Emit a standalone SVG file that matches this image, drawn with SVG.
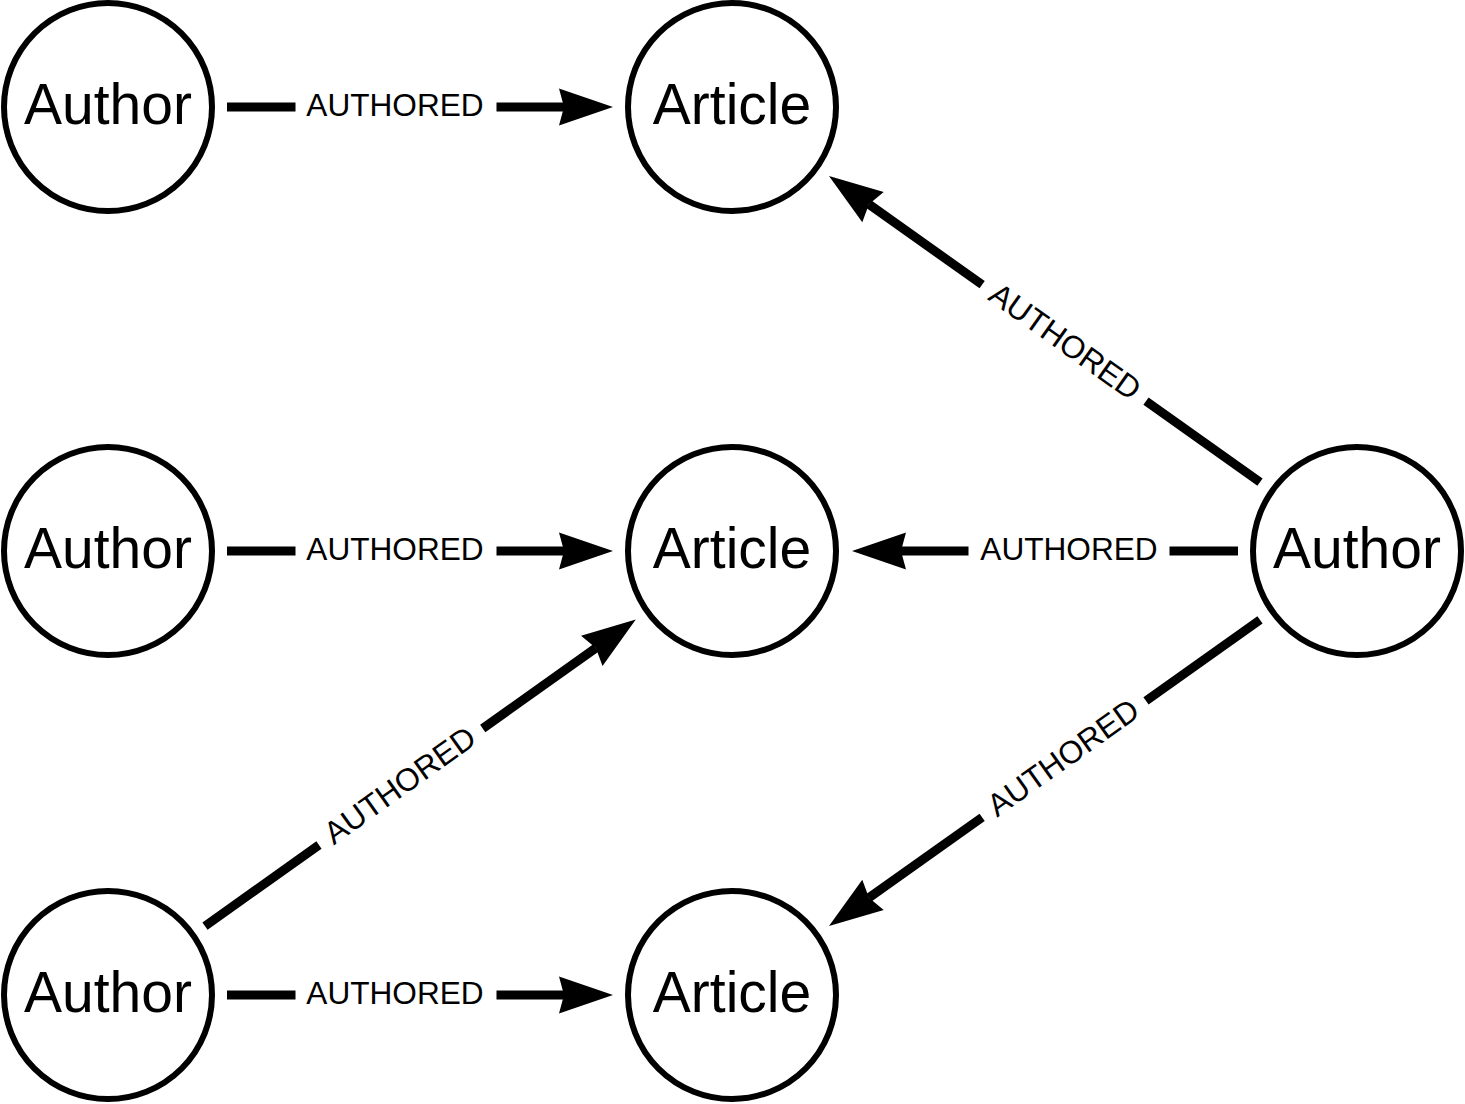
<svg xmlns="http://www.w3.org/2000/svg" width="1465" height="1104" viewBox="0 0 1465 1104">
<style>
.node circle{fill:#fff;stroke:#000;stroke-width:6}
.node text{font-family:"Liberation Sans",Arial,sans-serif;font-size:57px;text-anchor:middle;fill:#000}
.edge line{stroke:#000;stroke-width:9}
.lbl{font-family:"Liberation Sans",Arial,sans-serif;font-size:31.6px;text-anchor:middle;fill:#000}
</style>
<defs>
<path id="ah" d="M0,0 L-54,-18.5 L-49,0 L-54,18.5 Z" fill="#000"/>
</defs>
<rect width="1465" height="1104" fill="#fff"/>
<g id="connectors">
<g class="edge" id="e1" transform="translate(227,107)">
<line x1="0" y1="0" x2="68.5" y2="0"/><line x1="269.5" y1="0" x2="337" y2="0"/><use href="#ah" x="386" y="0"/>
</g>
<g class="edge" id="e2" transform="translate(227,551)">
<line x1="0" y1="0" x2="68.5" y2="0"/><line x1="269.5" y1="0" x2="337" y2="0"/><use href="#ah" x="386" y="0"/>
</g>
<g class="edge" id="e3" transform="translate(227,995)">
<line x1="0" y1="0" x2="68.5" y2="0"/><line x1="269.5" y1="0" x2="337" y2="0"/><use href="#ah" x="386" y="0"/>
</g>
<g class="edge" id="e4" transform="translate(1238,551) rotate(180)">
<line x1="0" y1="0" x2="68.5" y2="0"/><line x1="269.5" y1="0" x2="337" y2="0"/><use href="#ah" x="386" y="0"/>
</g>
<g class="edge" id="e5" transform="translate(1260,482.1) rotate(-144.61)">
<line x1="0" y1="0" x2="139.85" y2="0"/><line x1="340.85" y1="0" x2="479.7" y2="0"/><use href="#ah" x="528.7" y="0"/>
</g>
<g class="edge" id="e6" transform="translate(1260,619.9) rotate(144.61)">
<line x1="0" y1="0" x2="139.85" y2="0"/><line x1="340.85" y1="0" x2="479.7" y2="0"/><use href="#ah" x="528.7" y="0"/>
</g>
<g class="edge" id="e7" transform="translate(205,926.1) rotate(-35.43)">
<line x1="0" y1="0" x2="139.85" y2="0"/><line x1="340.85" y1="0" x2="479.7" y2="0"/><use href="#ah" x="528.7" y="0"/>
</g>
<text class="lbl" x="395" y="116">AUTHORED</text>
<text class="lbl" x="395" y="560">AUTHORED</text>
<text class="lbl" x="395" y="1004">AUTHORED</text>
<text class="lbl" x="1069" y="560">AUTHORED</text>
<text class="lbl" transform="translate(1064.1,342.9) rotate(35.39)" x="0" y="9">AUTHORED</text>
<text class="lbl" transform="translate(1064.1,759.1) rotate(-35.39)" x="0" y="9">AUTHORED</text>
<text class="lbl" transform="translate(400.8,786.7) rotate(-35.43)" x="0" y="9">AUTHORED</text>
</g>
<g class="node" id="author1"><circle cx="108" cy="107" r="104"/><text x="108" y="124">Author</text></g>
<g class="node" id="article1"><circle cx="732" cy="107" r="104"/><text x="732" y="124">Article</text></g>
<g class="node" id="author2"><circle cx="108" cy="551" r="104"/><text x="108" y="568">Author</text></g>
<g class="node" id="article2"><circle cx="732" cy="551" r="104"/><text x="732" y="568">Article</text></g>
<g class="node" id="author3"><circle cx="108" cy="995" r="104"/><text x="108" y="1012">Author</text></g>
<g class="node" id="article3"><circle cx="732" cy="995" r="104"/><text x="732" y="1012">Article</text></g>
<g class="node" id="author4"><circle cx="1357" cy="551" r="104"/><text x="1357" y="568">Author</text></g>
</svg>
